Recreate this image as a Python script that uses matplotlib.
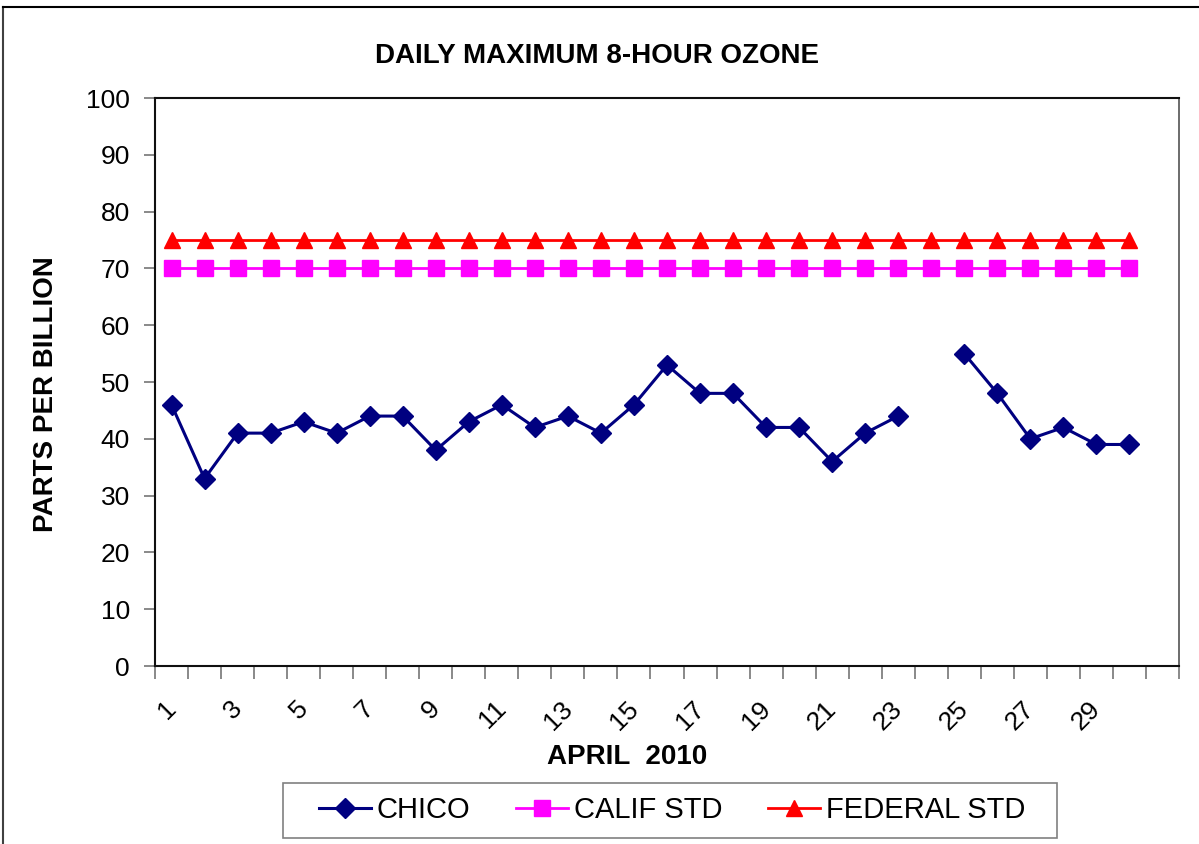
import numpy as np
import matplotlib.pyplot as plt
import matplotlib.transforms as mtransforms

plt.rcParams['font.family'] = ['Liberation Sans', 'DejaVu Sans']

# datos (abril 2010, día 24 sin dato)
days = list(range(1, 31))
chico = [46, 33, 41, 41, 43, 41, 44, 44, 38, 43, 46, 42, 44, 41, 46,
         53, 48, 48, 42, 42, 36, 41, 44, np.nan, 55, 48, 40, 42, 39, 39]
calif_std = [70] * 30
federal_std = [75] * 30
tick_labels = [str(d) for d in range(1, 30, 2)]

fig = plt.figure(figsize=(11.99, 8.44), dpi=100)
ax = fig.add_axes([155 / 1199, 1 - 666 / 844, 1024 / 1199, 568 / 844])

ax.plot(days, chico, color='#000080', marker='D', markersize=10, lw=2.2, label='CHICO')
ax.plot(days, calif_std, color='#FF00FF', marker='s', markersize=11, lw=2, label='CALIF STD')
ax.plot(days, federal_std, color='#FF0000', marker='^', markersize=12, lw=2, label='FEDERAL STD')

ax.set_xlim(0.5, 31.5)
ax.set_ylim(0, 100)
ax.set_yticks(range(0, 101, 10))
ax.set_xticks(np.arange(0.5, 32, 1))
ax.set_xticklabels([])
ax.set_xticks(range(1, 30, 2), minor=True)
ax.set_xticklabels(tick_labels, minor=True, rotation=45, fontsize=19)
ax.tick_params(axis='x', which='minor', length=0, pad=22)
ax.tick_params(axis='x', which='major', length=9, color='#808080', width=1.3)
ax.tick_params(axis='y', length=8, color='#808080', width=1.3, labelsize=19, pad=10)
shift = mtransforms.ScaledTranslation(9 / 100, 0, fig.dpi_scale_trans)
for lbl in ax.get_xticklabels(minor=True):
    lbl.set_ha('right')
    lbl.set_va('top')
    lbl.set_transform(lbl.get_transform() + shift)

for s in ['left', 'bottom', 'top']:
    ax.spines[s].set_linewidth(1.5)
    ax.spines[s].set_color('#101010')
ax.spines['right'].set_color('#606060')
ax.spines['right'].set_linewidth(1.3)

fig.text(597 / 1199, 1 - 56 / 844, 'DAILY MAXIMUM 8-HOUR OZONE', ha='center', va='center',
         fontsize=20, fontweight='bold')
fig.text(46 / 1199, 1 - 394 / 844, 'PARTS PER BILLION', ha='center', va='center',
         rotation=90, fontsize=20, fontweight='bold')
fig.text(627 / 1199, 1 - 757 / 844, 'APRIL  2010', ha='center', va='center',
         fontsize=20, fontweight='bold')

leg = fig.legend(loc='center', bbox_to_anchor=(672 / 1199, 1 - 810 / 844), ncol=3,
                 fontsize=21, frameon=False,
                 handlelength=1.8, handletextpad=0.2, columnspacing=1.55, borderpad=0.45,
                 borderaxespad=0)
# marco de la leyenda
fig.add_artist(plt.Rectangle((283 / 1199, 1 - 838 / 844), 774 / 1199, 55 / 844,
                             transform=fig.transFigure, fill=False,
                             edgecolor='#808080', lw=1.2))

# borde del gráfico (solo arriba e izquierda se ven)
fig.add_artist(plt.Line2D([3 / 1199, 3 / 1199], [0, 1 - 7 / 844], transform=fig.transFigure,
                          color='#404040', lw=1.5))
fig.add_artist(plt.Line2D([3 / 1199, 1], [1 - 7 / 844, 1 - 7 / 844], transform=fig.transFigure,
                          color='black', lw=1.5))

plt.savefig('out.png', dpi=100)
